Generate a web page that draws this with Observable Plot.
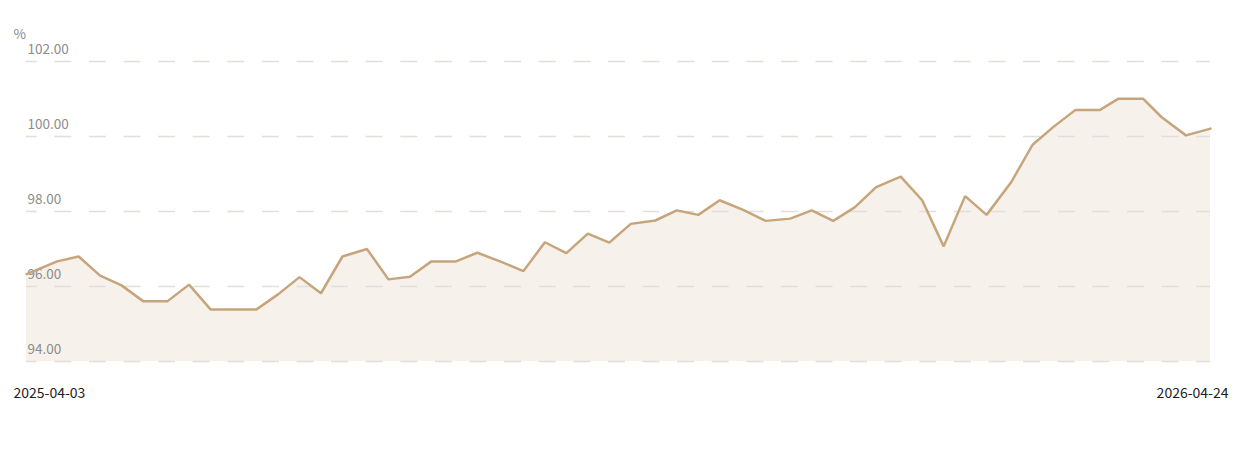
<!DOCTYPE html>
<html>
<head>
<meta charset="utf-8">
<script src="https://cdn.jsdelivr.net/npm/d3@7"></script>
<script src="https://cdn.jsdelivr.net/npm/@observablehq/plot@0.6"></script>
<style>
  html, body { margin: 0; padding: 0; background: #fff; }
  #chart { width: 1238px; height: 459px; }
</style>
</head>
<body>
<div id="chart"></div>
<script>
const dates = [
  "2025-04-03","2025-04-13","2025-04-20","2025-04-27","2025-05-04","2025-05-11","2025-05-19","2025-05-26",
  "2025-06-02","2025-06-09","2025-06-17","2025-06-24","2025-07-01","2025-07-08","2025-07-15","2025-07-23",
  "2025-07-30","2025-08-06","2025-08-13","2025-08-21","2025-08-28","2025-09-05","2025-09-12","2025-09-19",
  "2025-09-26","2025-10-03","2025-10-10","2025-10-17","2025-10-25","2025-11-01","2025-11-08","2025-11-15",
  "2025-11-23","2025-11-30","2025-12-08","2025-12-15","2025-12-22","2025-12-29","2026-01-05","2026-01-13",
  "2026-01-20","2026-01-27","2026-02-03","2026-02-10","2026-02-18","2026-02-25","2026-03-04","2026-03-11",
  "2026-03-19","2026-03-25","2026-04-02","2026-04-08","2026-04-16","2026-04-24"
];
const values = [
  96.33, 96.67, 96.80, 96.29, 96.03, 95.61, 95.61, 96.05,
  95.39, 95.39, 95.39, 95.79, 96.25, 95.82, 96.80, 97.00,
  96.19, 96.26, 96.67, 96.67, 96.90, 96.65, 96.41, 97.18,
  96.89, 97.41, 97.17, 97.67, 97.76, 98.03, 97.91, 98.30,
  98.03, 97.75, 97.81, 98.03, 97.75, 98.11, 98.65, 98.93,
  98.30, 97.07, 98.41, 97.91, 98.78, 99.78, 100.27, 100.71,
  100.71, 101.01, 101.01, 100.52, 100.03, 100.21
];
const yTicks = [94, 96, 98, 100, 102];
const xLabels = ["2025-04-03", "2026-04-24"];
const unitLabel = "%";

const parse = d3.utcParse("%Y-%m-%d");
const data = dates.map((d, i) => ({date: parse(d), value: values[i]}));
const yMin = yTicks[0];

const chart = Plot.plot({
  width: 1238,
  height: 459,
  marginLeft: 26,
  marginRight: 28,
  marginTop: 61,
  marginBottom: 98,
  style: {fontFamily: "'Noto Sans CJK SC', 'Noto Sans', sans-serif", fontSize: "13px", background: "#fff"},
  x: {type: "utc", domain: [parse(xLabels[0]), parse(xLabels[1])], axis: null},
  y: {domain: [yTicks[0], yTicks[yTicks.length - 1]], axis: null},
  marks: [
    Plot.areaY(data, {x: "date", y1: yMin, y2: "value", fill: "#f6f1eb"}),
    Plot.ruleY(yTicks, {stroke: "#e2dfdb", strokeWidth: 1.5, strokeDasharray: "17,17.6", strokeDashoffset: 6.3}),
    Plot.text(yTicks, {y: d => d, text: d => d.toFixed(2), frameAnchor: "left", textAnchor: "start", dx: 1, dy: -12, fill: "#8c8c8c", fontSize: 13.5}),
    Plot.line(data, {x: "date", y: "value", stroke: "#c7a57c", strokeWidth: 2.5, strokeLinejoin: "miter"}),
    Plot.text([xLabels[0]], {x: d => parse(d), text: d => d, frameAnchor: "bottom", textAnchor: "start", dx: -13, dy: 36, fill: "#222", fontSize: 14}),
    Plot.text([xLabels[1]], {x: d => parse(d), text: d => d, frameAnchor: "bottom", textAnchor: "end", dx: 18, dy: 36, fill: "#222", fontSize: 14}),
    Plot.text([unitLabel], {text: d => d, frameAnchor: "top-left", textAnchor: "start", dx: -13, dy: -32, fill: "#8c8c8c", fontSize: 13.5})
  ]
});
document.getElementById("chart").appendChild(chart);
</script>
</body>
</html>
